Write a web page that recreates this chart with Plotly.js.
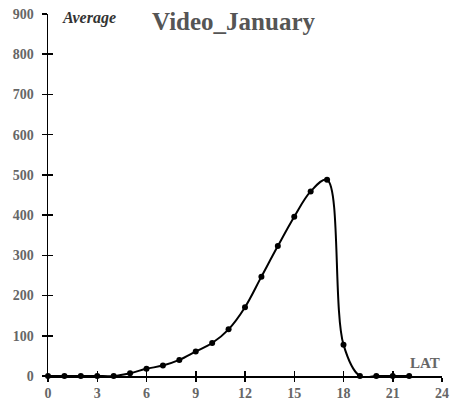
<!DOCTYPE html>
<html><head><meta charset="utf-8">
<script src="https://cdn.plot.ly/plotly-3.0.1.min.js"></script>
<style>html,body{margin:0;padding:0;background:#fff}#chart{width:456px;height:403px}</style>
</head><body><div id="chart"></div>
<script>
const latValues = [0,1,2,3,4,5,6,7,8,9,10,11,12,13,14,15,16,17,18,19,20,21,22];
const averageValues = [0,0,0,0,0,7,18,26,40,61,82,116,171,247,323,396,459,488,78,0,0,0,0];
const xTicks = [0,3,6,9,12,15,18,21,24];
const yTicks = [0,100,200,300,400,500,600,700,800,900];

const SERIF = 'Liberation Serif';
const tickFont = {family:SERIF, size:14, color:'#666666', weight:700};
const common = {showgrid:false, zeroline:false, showline:true, linecolor:'#000', linewidth:1.5, tickcolor:'#000', tickwidth:1.5, ticklen:5};

const data = [
  {x: latValues, y: averageValues, type:'scatter', mode:'lines+markers',
   line:{color:'#000', width:2, shape:'spline', smoothing:1},
   marker:{color:'#000', size:6}, cliponaxis:false, hoverinfo:'skip'},
  {x: [0], y: [0], xaxis:'x2', yaxis:'y2', type:'scatter', mode:'markers', marker:{opacity:0}, hoverinfo:'skip'}
];

const layout = {
  width:456, height:403,
  margin:{l:48, r:14, t:14, b:27},
  font:{family:SERIF, size:14, color:'#666666'},
  paper_bgcolor:'#fff', plot_bgcolor:'#fff',
  showlegend:false,
  xaxis: Object.assign({}, common, {range:[0,24], tickvals:xTicks, ticktext:xTicks.map(v => '<b>' + v + '</b>'), ticks:'outside', ticklen:4, tickfont:tickFont, ticklabelstandoff:0}),
  yaxis: Object.assign({}, common, {range:[0,900], tickvals:yTicks, ticktext:yTicks.map(v => '<b>' + v + '</b>'), ticks:'outside', tickfont:tickFont, ticklabelstandoff:5}),
  xaxis2: Object.assign({}, common, {range:[0,24], tickvals:xTicks, ticks:'inside', showticklabels:false, overlaying:'x', anchor:'y2'}),
  yaxis2: Object.assign({}, common, {range:[0,900], tickvals:yTicks, ticks:'inside', showticklabels:false, overlaying:'y', anchor:'x2'}),
  annotations:[
    {text:'<b>Video_January</b>', xref:'paper', yref:'paper', x:0.47, y:0.978, xanchor:'center', yanchor:'middle', showarrow:false,
     font:{family:SERIF, size:25, color:'#555555'}},
    {text:'<b><i>Average</i></b>', xref:'paper', yref:'paper', x:0.03, y:0.99, xanchor:'left', yanchor:'middle', showarrow:false,
     font:{family:SERIF, size:16, color:'#333333'}},
    {text:'<b>LAT</b>', xref:'paper', yref:'paper', x:1.0, y:0.035, xanchor:'right', yanchor:'middle', showarrow:false,
     font:{family:SERIF, size:15, color:'#666666'}}
  ]
};
Plotly.newPlot('chart', data, layout, {displayModeBar:false, staticPlot:true});
</script></body></html>
